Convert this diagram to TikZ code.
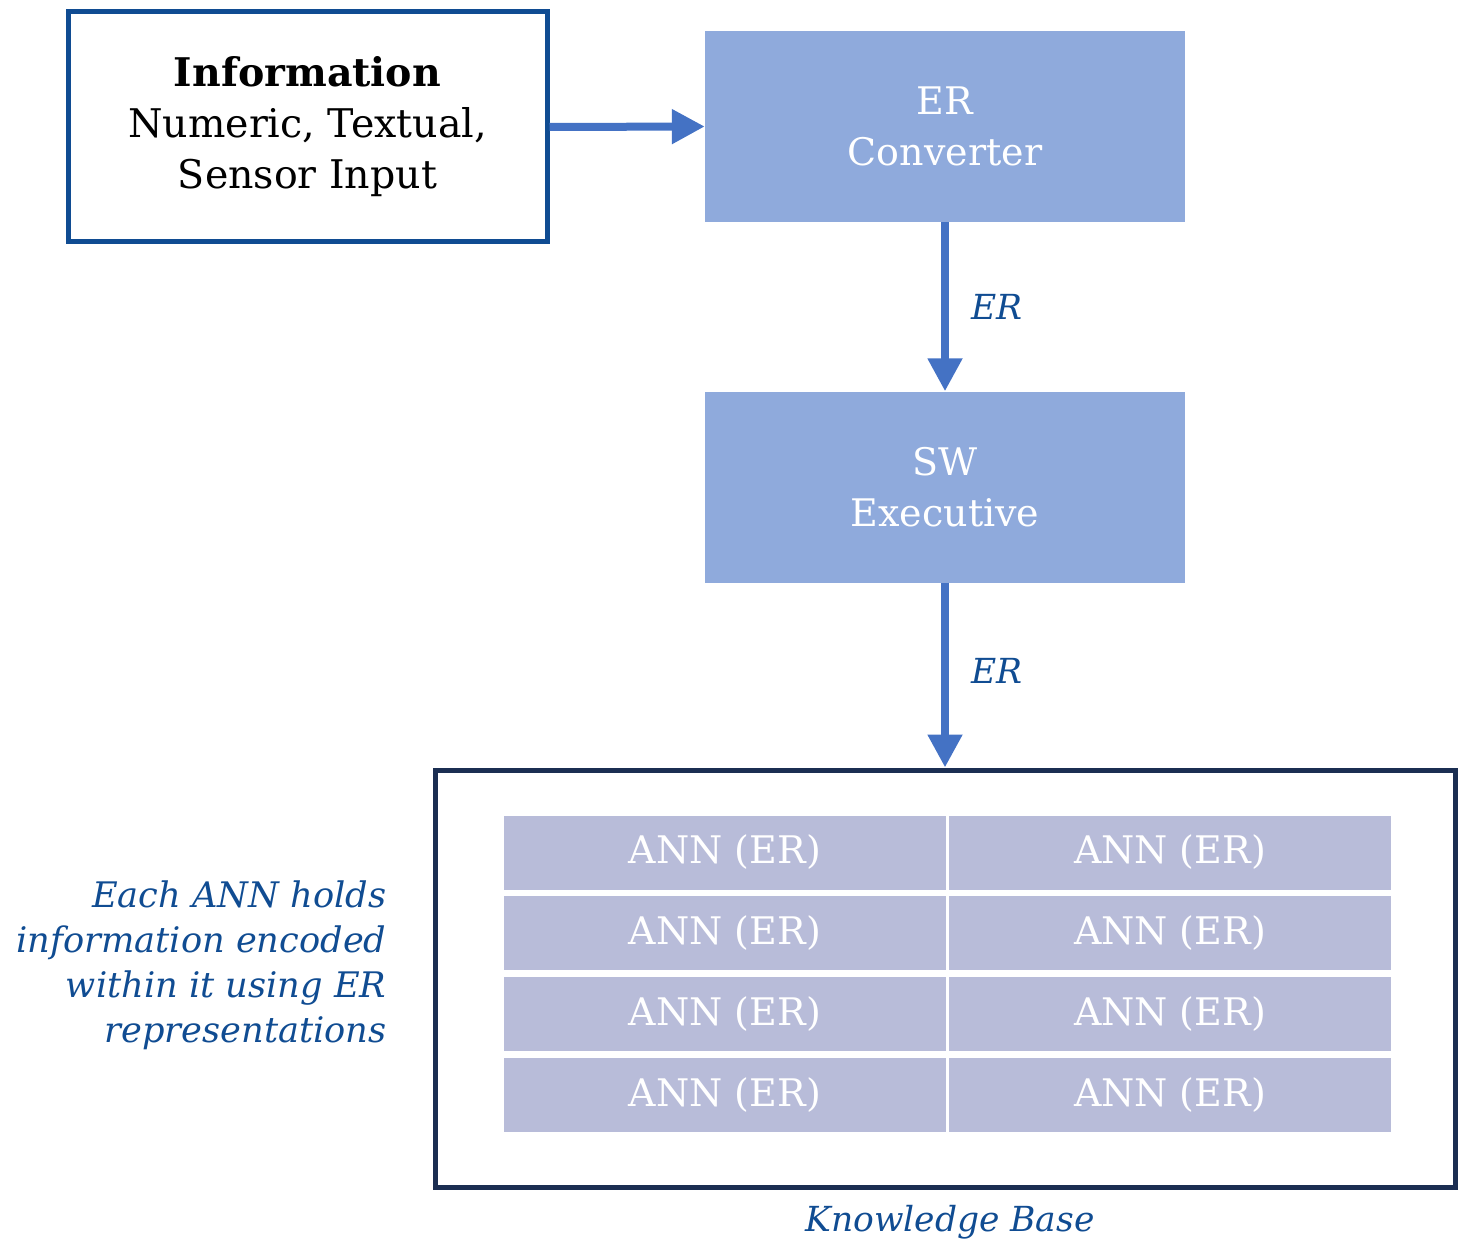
\documentclass[tikz,border=0pt]{standalone}
\usepackage{fontspec}
\setmainfont{DejaVu Serif}
\usetikzlibrary{arrows.meta,positioning}
\definecolor{infoblue}{RGB}{16,76,146}
\definecolor{flowblue}{RGB}{68,114,196}
\definecolor{procfill}{RGB}{143,170,220}
\definecolor{cellfill}{RGB}{184,188,217}
\definecolor{kbframe}{RGB}{27,46,82}
\definecolor{notetext}{RGB}{16,76,146}
\tikzset{
  procbox/.style={fill=procfill, draw=none, minimum width=480pt, minimum height=191pt,
    text=white, align=center, font=\fontsize{38}{51}\selectfont},
  annbox/.style={fill=cellfill, draw=none, minimum width=442pt, minimum height=74pt,
    text=white, font=\fontsize{38}{46}\selectfont, inner sep=0pt},
  flow/.style={draw=flowblue, line width=8pt, -{Triangle[length=33pt,width=33pt]}},
  flowlabel/.style={text=notetext, font=\fontsize{34.5}{40}\selectfont\itshape},
}
\begin{document}
\begin{tikzpicture}[x=1pt,y=-1pt]
\useasboundingbox (0,0) rectangle (1466,1241);

% input information box
\node[draw=infoblue, line width=5pt, minimum width=479pt, minimum height=230pt,
  align=center, font=\fontsize{39.5}{51}\selectfont] (info) at (307.5,127)
  {\textbf{Information}\\Numeric, Textual,\\Sensor Input};

% processing stages
\node[procbox] (conv) at (945,126.5) {ER\\Converter};
\node[procbox] (exec) at (945,487) {SW\\Executive};

% knowledge base frame
\node[draw=kbframe, line width=5pt, minimum width=1020pt, minimum height=417pt] (kb) at (945,978.5) {};

% grid of ANN cells
\foreach \r/\yy in {1/852.5, 2/933, 3/1014, 4/1095} {
  \node[annbox] (a\r) at (725,\yy) {ANN (ER)};
  \node[annbox] (b\r) at (1170,\yy) {ANN (ER)};
}

% connectors
\draw[flow] (info.east) -- (conv.west);
\draw[flow] (conv.south) -- node[flowlabel, right=19pt, pos=0.5] (l1) {ER} (exec.north);
\draw[flow] (exec.south) -- node[flowlabel, right=19pt, pos=0.48] (l2) {ER} (kb.north);

% annotations
\node[flowlabel, align=right, anchor=east, font=\fontsize{35.2}{45}\selectfont\itshape] (note) at (390,965)
  {Each ANN holds\\information encoded\\within it using ER\\representations};
\node[flowlabel] (kbname) at (950,1222) {Knowledge Base};
\end{tikzpicture}
\end{document}
